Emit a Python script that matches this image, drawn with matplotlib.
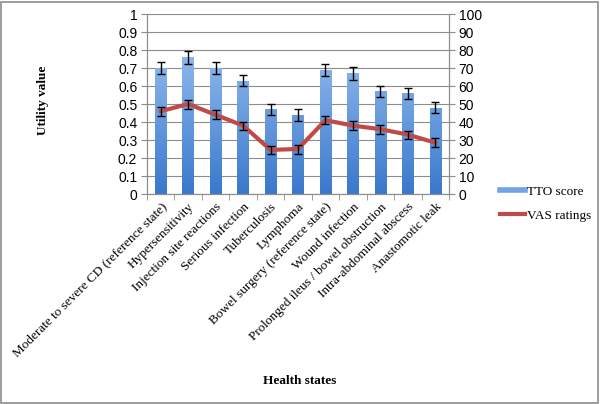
import matplotlib
matplotlib.use("Agg")
import matplotlib.pyplot as plt
import numpy as np
from matplotlib.patches import Rectangle
from matplotlib.lines import Line2D
from matplotlib.colors import LinearSegmentedColormap

categories = ["Moderate to severe CD (reference state)", "Hypersensitivity",
              "Injection site reactions", "Serious infection", "Tuberculosis",
              "Lymphoma", "Bowel surgery (reference state)", "Wound infection",
              "Prolonged ileus / bowel obstruction", "Intra-abdominal abscess",
              "Anastomotic leak"]
tto = [0.70, 0.76, 0.70, 0.63, 0.47, 0.44, 0.69, 0.67, 0.57, 0.56, 0.48]
tto_err = [0.035, 0.035, 0.035, 0.03, 0.03, 0.035, 0.035, 0.035, 0.03, 0.03, 0.03]
vas = [46, 50, 44, 38, 24.5, 25, 41, 38, 36, 33, 28.5]
vas_err = [2.5, 2.5, 2.5, 2.2, 2.2, 2.5, 2.2, 2.5, 2.5, 2.2, 2.5]

fig = plt.figure(figsize=(6, 4.04), dpi=100)
ax = fig.add_axes([147/600, 1-194/404, 302/600, 180/404])
ax2 = ax.twinx()

x = np.arange(len(categories))
bars = ax.bar(x, tto, width=0.42, color="none", edgecolor="none", zorder=2)
grad = np.linspace(0, 1, 256).reshape(-1, 1)
cmap = LinearSegmentedColormap.from_list("g", ["#3a78cc", "#a6cbf5"])
for b in bars:
    bx, bw = b.get_x(), b.get_width()
    im = ax.imshow(grad, extent=[bx, bx + bw, 0, 1], origin="lower", cmap=cmap,
                   aspect="auto", zorder=2)
    im.set_clip_path(b)
ax.errorbar(x, tto, yerr=tto_err, fmt="none", ecolor="black", elinewidth=1,
            capsize=3, capthick=1, zorder=4)

ax2.plot(x, vas, color="#be4b48", lw=3, zorder=3)
ax2.errorbar(x, vas, yerr=vas_err, fmt="none", ecolor="black", elinewidth=1,
             capsize=3, capthick=1, zorder=4)

ax.set_xlim(-0.5, len(categories) - 0.5)
ax.set_ylim(0, 1)
ax2.set_ylim(0, 100)
ax.set_yticks(np.arange(0, 1.01, 0.1))
ax.set_yticklabels(["0"] + [f"{v:.1f}" for v in np.arange(0.1, 0.95, 0.1)] + ["1"])
ax2.set_yticks(np.arange(0, 101, 10))
ax.grid(axis="y", color="#8c8c8c", lw=0.8, zorder=0)
ax.set_axisbelow(True)
for a in (ax, ax2):
    a.spines["top"].set_visible(False)
    a.spines["left"].set_color("#8c8c8c")
    a.spines["right"].set_color("#8c8c8c")
    a.spines["bottom"].set_color("#8c8c8c")
    a.tick_params(axis="y", length=4, color="#8c8c8c", labelsize=10, pad=3)
    for lab in a.get_yticklabels():
        lab.set_fontfamily("Liberation Sans")
ax.set_xticks(np.arange(-0.5, len(categories), 1), minor=True)
ax.set_xticks(x)
ax.tick_params(axis="x", which="major", length=0)
ax.tick_params(axis="x", which="minor", length=4, color="#8c8c8c")
ax.set_xticklabels(categories, rotation=45, ha="right", rotation_mode="anchor",
                   fontfamily="Liberation Serif", fontsize=9.5)
ax.tick_params(axis="x", pad=5)

fig.text(0.072, 1-100/404, "Utility value", rotation=90, ha="center", va="center",
         fontfamily="Liberation Serif", fontweight="bold", fontsize=9.5)
fig.text(300/600, 1-381/404, "Health states", ha="center", va="center",
         fontfamily="Liberation Serif", fontweight="bold", fontsize=9.5)

handles = [Line2D([0], [0], color="#6fa4e6", lw=4),
           Line2D([0], [0], color="#be4b48", lw=3)]
fig.legend(handles, ["TTO score", "VAS ratings"], loc="upper left",
           bbox_to_anchor=(488/600, 1-174/404), frameon=False,
           prop={"family": "Liberation Serif", "size": 9.5},
           handlelength=1.9, handletextpad=0.15, labelspacing=0.85)

fig.patches.append(Rectangle((0.002, 0.003), 0.995, 0.993, transform=fig.transFigure,
                             fill=False, edgecolor="#8c8c8c", lw=1.2))
fig.savefig("out.png", dpi=100)
